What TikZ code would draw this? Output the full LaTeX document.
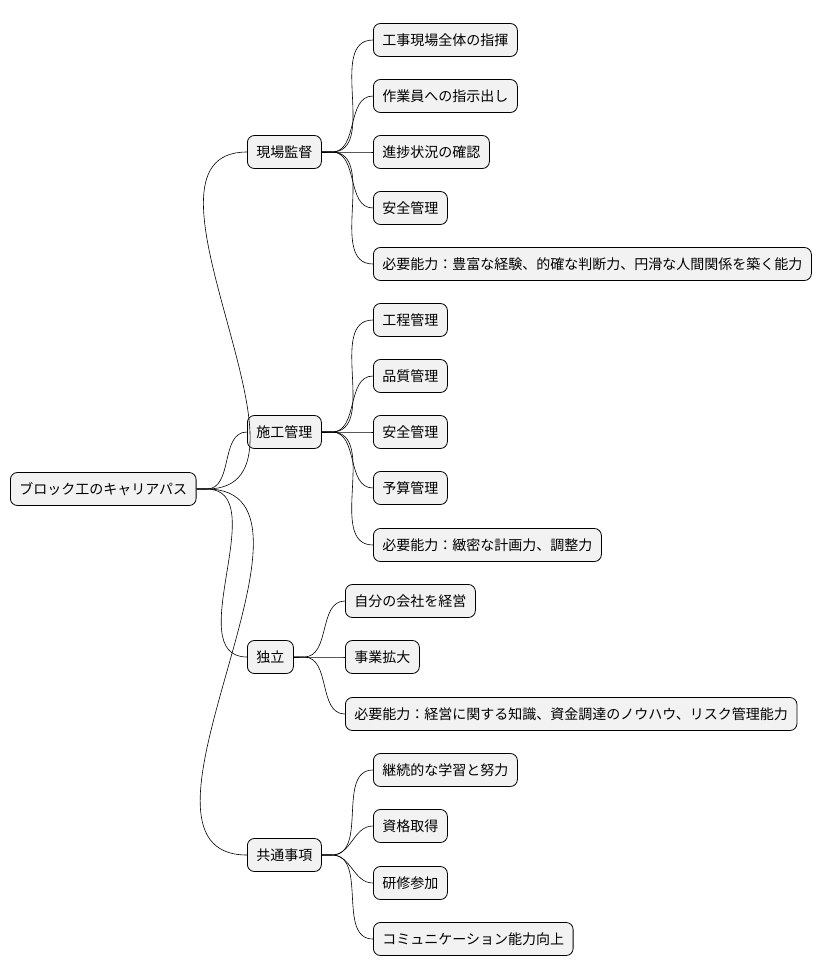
\documentclass[tikz,border=0pt]{standalone}
\usepackage{fontspec}
\newfontfamily\cjk{Noto Sans CJK JP}
\tikzset{
  item/.style={draw, rounded corners=7pt, fill=gray!10, anchor=west, minimum height=33pt,
    inner xsep=9pt, font=\cjk\fontsize{14}{16}\selectfont, line width=0.8pt},
  link/.style={line width=0.6pt}
}
\begin{document}
\begin{tikzpicture}[x=1pt, y=-1pt]
        \useasboundingbox (0, 0) rectangle (824, 978);

        \node[item] (root) at (10, 489) {ブロック工のキャリアパス};

        \node[item] (gen) at (247, 152) {現場監督};
        \node[item] (sek) at (247, 432) {施工管理};
        \node[item] (dok) at (247, 657) {独立};
        \node[item] (kyo) at (247, 855) {共通事項};

        \node[item] (gen1) at (373, 40) {工事現場全体の指揮};
        \node[item] (gen2) at (373, 96) {作業員への指示出し};
        \node[item] (gen3) at (373, 152) {進捗状況の確認};
        \node[item] (gen4) at (373, 208) {安全管理};
        \node[item] (gen5) at (373, 264) {必要能力：豊富な経験、的確な判断力、円滑な人間関係を築く能力};

        \node[item] (sek1) at (373, 320) {工程管理};
        \node[item] (sek2) at (373, 376) {品質管理};
        \node[item] (sek3) at (373, 432) {安全管理};
        \node[item] (sek4) at (373, 488) {予算管理};
        \node[item] (sek5) at (373, 545) {必要能力：緻密な計画力、調整力};

        \node[item] (dok1) at (345, 601) {自分の会社を経営};
        \node[item] (dok2) at (345, 657) {事業拡大};
        \node[item] (dok3) at (345, 714) {必要能力：経営に関する知識、資金調達のノウハウ、リスク管理能力};

        \node[item] (kyo1) at (373, 770) {継続的な学習と努力};
        \node[item] (kyo2) at (373, 826) {資格取得};
        \node[item] (kyo3) at (373, 883) {研修参加};
        \node[item] (kyo4) at (373, 939) {コミュニケーション能力向上};

        % branches
        \foreach \c in {gen, sek, dok, kyo}
            \draw[link] (root.east) -- ++(10, 0) to[out=0, in=180] (\c.west);
        \foreach \c in {gen1, gen2, gen3, gen4, gen5}
            \draw[link] (gen.east) -- ++(10, 0) to[out=0, in=180] (\c.west);
        \foreach \c in {sek1, sek2, sek3, sek4, sek5}
            \draw[link] (sek.east) -- ++(10, 0) to[out=0, in=180] (\c.west);
        \foreach \c in {dok1, dok2, dok3}
            \draw[link] (dok.east) -- ++(10, 0) to[out=0, in=180] (\c.west);
        \foreach \c in {kyo1, kyo2, kyo3, kyo4}
            \draw[link] (kyo.east) -- ++(10, 0) to[out=0, in=180] (\c.west);
\end{tikzpicture}
\end{document}
